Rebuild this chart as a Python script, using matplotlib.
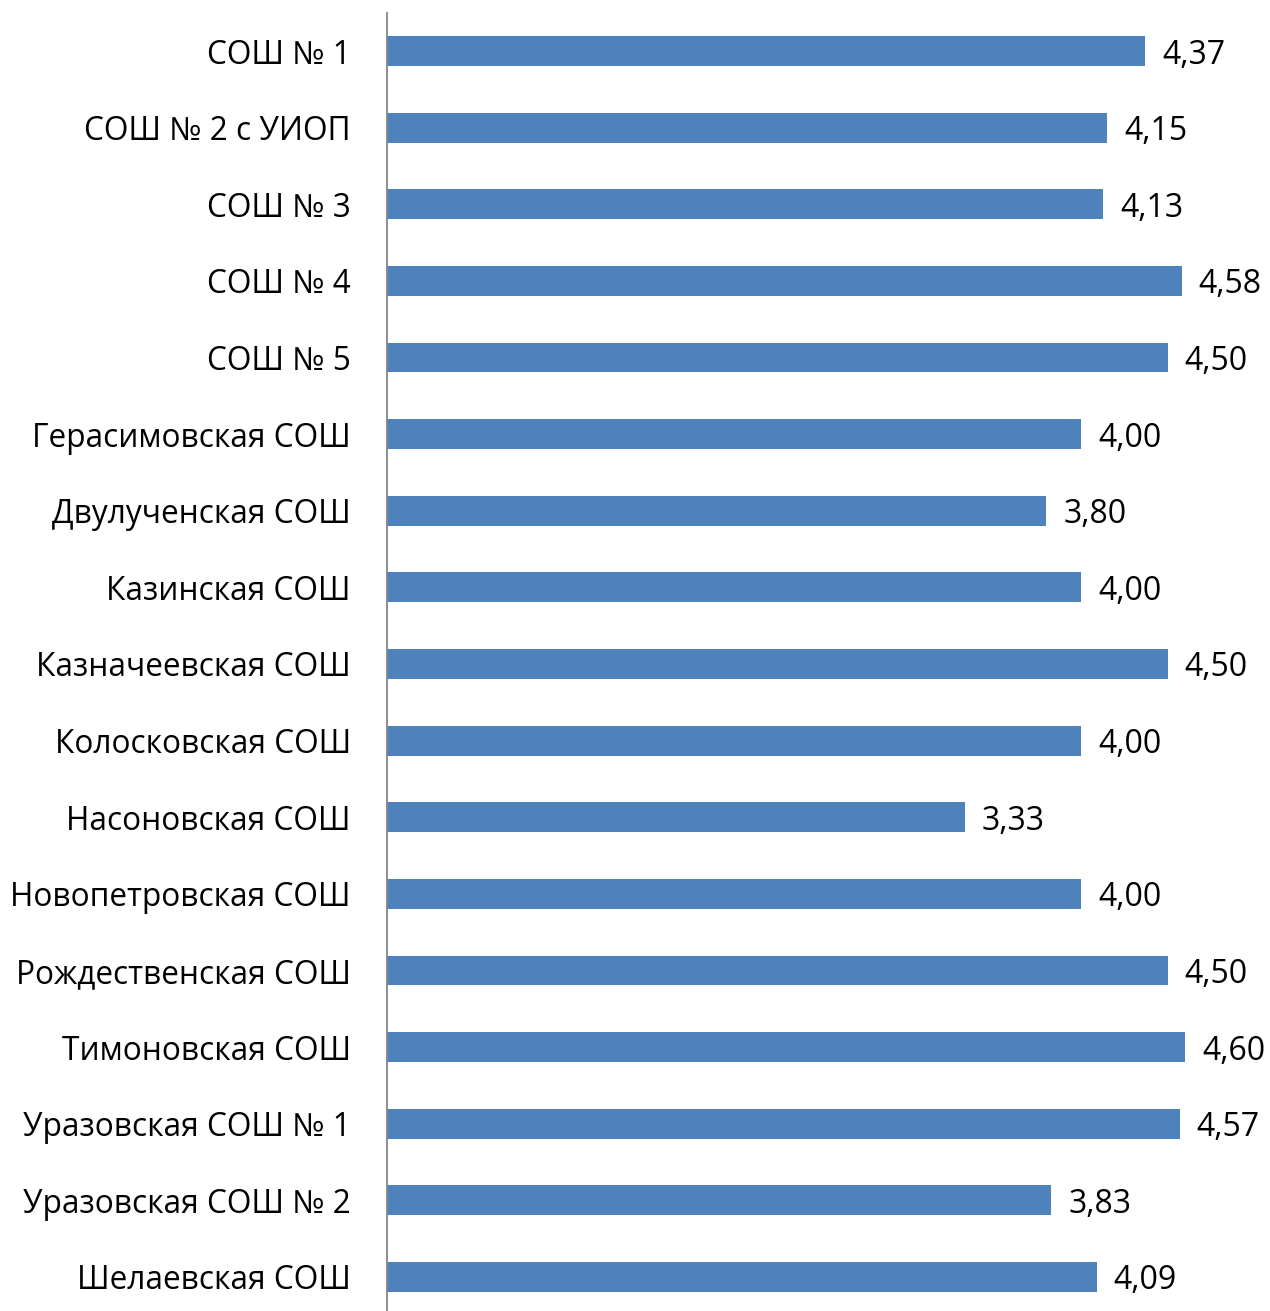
import matplotlib
matplotlib.use("Agg")
import matplotlib.pyplot as plt

categories = ["СОШ № 1", "СОШ № 2 с УИОП", "СОШ № 3", "СОШ № 4", "СОШ № 5",
              "Герасимовская СОШ", "Двулученская СОШ", "Казинская СОШ",
              "Казначеевская СОШ", "Колосковская СОШ", "Насоновская СОШ",
              "Новопетровская СОШ", "Рождественская СОШ", "Тимоновская СОШ",
              "Уразовская СОШ № 1", "Уразовская СОШ № 2", "Шелаевская СОШ"]
values = [4.37, 4.15, 4.13, 4.58, 4.50, 4.00, 3.80, 4.00, 4.50, 4.00,
          3.33, 4.00, 4.50, 4.60, 4.57, 3.83, 4.09]

plt.rcParams['font.family'] = ['Open Sans', 'DejaVu Sans']

W, H = 1270, 1311
fig = plt.figure(figsize=(W/100, H/100), dpi=100)
ax = fig.add_axes([387/W, -4.3/H, (W-387)/W, 1302.6/H])

y = list(range(len(categories)))
ax.barh(y, values, height=0.39, color="#4F81BD")
ax.set_ylim(len(categories)-0.5, -0.5)
ax.set_xlim(0, 5.09)
ax.set_yticks(y)
ax.set_yticklabels(categories, fontsize=22.8, va='center_baseline')
ax.tick_params(axis='y', length=0, pad=26)
ax.set_xticks([])
for s in ['top', 'right', 'bottom']:
    ax.spines[s].set_visible(False)
ax.spines['left'].set_color('#868686')
ax.spines['left'].set_linewidth(1.3)

for yi, v in zip(y, values):
    ax.annotate(f"{v:.2f}".replace('.', ','), xy=(v, yi), xytext=(17, 0),
                textcoords='offset pixels', va='center_baseline', ha='left',
                fontsize=23)

fig.savefig("out.png", dpi=100)
